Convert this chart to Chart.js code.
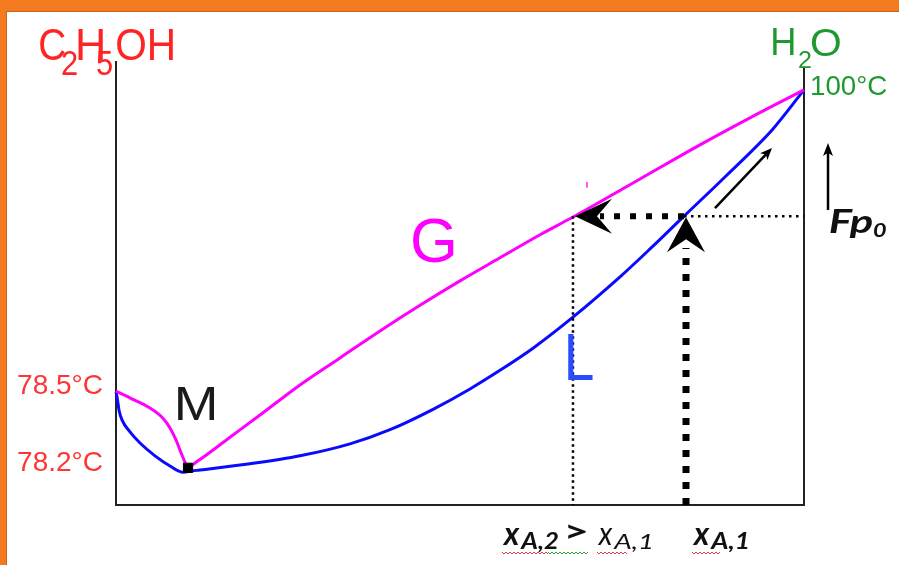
<!DOCTYPE html>
<html><head><meta charset="utf-8">
<script src="https://cdn.jsdelivr.net/npm/chart.js@4.4.1/dist/chart.umd.min.js"></script>
<style>html,body{margin:0;padding:0;background:#fff;}canvas{display:block;}</style>
</head><body>
<canvas id="c" width="899" height="565"></canvas>
<script>
// x: composition (0 = C2H5OH, 1 = H2O); y: schematic temperature height (0 = bottom axis, 100 = top of axis)
const liquidX = [0, 0.0015, 0.0044, 0.0087, 0.0203, 0.0349, 0.0567, 0.0785, 0.0974, 0.1105, 0.1221, 0.1948, 0.2674, 0.3401, 0.3983, 0.4608, 0.5145, 0.5581, 0.6061, 0.6642, 0.7326, 0.7762, 0.8256, 0.8881, 0.9549, 1];
const liquidY = [25.5, 24.4, 21.4, 19.2, 16.5, 14.0, 11.1, 8.8, 7.4, 7.7, 7.9, 9.3, 11.1, 13.8, 17.0, 21.6, 26.2, 30.4, 35.4, 42.4, 51.5, 57.8, 65.2, 74.5, 84.9, 93.7];
const vaporX = [0, 0.0203, 0.0494, 0.0683, 0.0785, 0.0872, 0.0930, 0.0988, 0.1047, 0.1177, 0.1657, 0.2093, 0.2674, 0.3256, 0.3837, 0.4419, 0.5000, 0.5581, 0.6163, 0.6642, 0.7616, 0.8488, 0.9215, 1];
const vaporY = [25.7, 24.2, 21.9, 19.6, 17.4, 14.7, 12.4, 10.2, 8.6, 9.8, 15.3, 20.3, 27.1, 33.2, 39.3, 45.1, 50.6, 55.8, 61.0, 65.0, 73.6, 81.3, 87.4, 93.7];
const azeoX = [0.1047];
const azeoY = [8.4];
const tempTickValues = [9.4, 26.7];
const tempTickLabels = ['78.2°C', '78.5°C'];
const rightAxisTop = 98.9;
const xA2 = 0.6642;        // vapour composition
const xA1 = 0.8256;        // liquid composition
const xA1Feed = 0.8285;    // feed line
const feedLevel = 65.2;    // Fp0 level
const feedTopLevel = 58.0; // top of thick dotted feed line
const horizArrowEnd = 0.7035;
const diagArrowX = [0.8706, 0.9535];
const diagArrowY = [67.0, 80.6];
const fpArrowX = 1.0349;
const fpArrowY = [66.6, 81.7];
const strayX = [0.6846, 0.6846];
const strayY = [72.9, 71.6];

const pts = (xs, ys) => xs.map((x, i) => ({x, y: ys[i]}));

const NARROW = '"Liberation Sans Narrow", "Liberation Sans", Arial, sans-serif';
const SANS = '"Liberation Sans", Arial, sans-serif';
const LATO = 'Lato, "Open Sans", sans-serif';

function fitText(ctx, text, left, baseline, width, font, color) {
  ctx.save();
  ctx.font = font; ctx.fillStyle = color;
  ctx.textAlign = 'left'; ctx.textBaseline = 'alphabetic';
  const m = ctx.measureText(text);
  const ink = m.actualBoundingBoxLeft + m.actualBoundingBoxRight;
  const s = width / ink;
  ctx.translate(left, baseline);
  ctx.scale(s, 1);
  ctx.fillText(text, m.actualBoundingBoxLeft, 0);
  ctx.restore();
}
function squiggle(ctx, x0, x1, y, color) {
  ctx.save(); ctx.strokeStyle = color; ctx.lineWidth = 1;
  ctx.beginPath();
  let up = true;
  for (let x = x0; x <= x1; x += 2) { ctx.lineTo(x, y + (up ? -1 : 1)); up = !up; }
  ctx.stroke(); ctx.restore();
}
function stealth(ctx, tx, ty, dx, dy, len, hw, notch) {
  const bx = tx - dx * len, by = ty - dy * len;
  const nx = -dy, ny = dx;
  ctx.beginPath();
  ctx.moveTo(tx, ty);
  ctx.lineTo(bx + nx * hw, by + ny * hw);
  ctx.lineTo(tx - dx * notch, ty - dy * notch);
  ctx.lineTo(bx - nx * hw, by - ny * hw);
  ctx.closePath();
  ctx.fill();
}
function arrow(ctx, x0, y0, x1, y1, w, hl, hw) {
  const L = Math.hypot(x1 - x0, y1 - y0), dx = (x1 - x0) / L, dy = (y1 - y0) / L;
  ctx.beginPath(); ctx.lineWidth = w;
  ctx.moveTo(x0, y0); ctx.lineTo(x1 - dx * hl * 0.7, y1 - dy * hl * 0.7); ctx.stroke();
  stealth(ctx, x1, y1, dx, dy, hl, hw, hl * 0.75);
}

const framePlugin = {
  id: 'frame',
  beforeDraw(chart) {
    const ctx = chart.ctx;
    ctx.save();
    ctx.fillStyle = '#ffffff'; ctx.fillRect(0, 0, chart.width, chart.height);
    ctx.fillStyle = '#f47a20';
    ctx.fillRect(0, 0, chart.width, 11);
    ctx.fillRect(0, 0, 6, chart.height);
    ctx.fillStyle = '#c8651c';
    ctx.fillRect(6, 11, 1, chart.height - 11);
    ctx.fillRect(6, 11, chart.width - 6, 1);
    ctx.restore();
  }
};

const notesPlugin = {
  id: 'notes',
  afterDatasetsDraw(chart) {
    const ctx = chart.ctx, xs = chart.scales.x, ys = chart.scales.y;
    const px = v => xs.getPixelForValue(v), py = v => ys.getPixelForValue(v);
    ctx.save();
    ctx.fillStyle = '#000'; ctx.strokeStyle = '#000';
    stealth(ctx, px(xA2) + 2, py(feedLevel), -1, 0, 37, 17.5, 22);
    stealth(ctx, px(xA1Feed), py(feedLevel) + 1, 0, -1, 35, 19, 22);
    ctx.lineCap = 'butt';
    arrow(ctx, px(diagArrowX[0]), py(diagArrowY[0]), px(diagArrowX[1]), py(diagArrowY[1]), 2.5, 12, 5);
    arrow(ctx, px(fpArrowX), py(fpArrowY[0]), px(fpArrowX), py(fpArrowY[1]), 2.5, 13, 5);
    ctx.restore();

    const red = '#ff2424', green = '#1f992f', mag = '#ff00ff', blueL = '#2a4cff';
    fitText(ctx, 'C', 40, 60, 25, '45px ' + NARROW, red);
    fitText(ctx, '2', 62, 75, 15, '35px ' + NARROW, red);
    fitText(ctx, 'H', 78, 60, 25, '45px ' + NARROW, red);
    fitText(ctx, '5', 97, 75, 15, '35px ' + NARROW, red);
    fitText(ctx, 'OH', 117, 60, 56, '45px ' + NARROW, red);
    fitText(ctx, 'H', 773, 55, 21, '38px ' + NARROW, green);
    fitText(ctx, '2', 799, 68, 12, '23px ' + NARROW, green);
    fitText(ctx, 'O', 811, 56, 29, '38px ' + NARROW, green);
    fitText(ctx, '100°C', 812, 95, 75, '28px ' + SANS, green);
    fitText(ctx, 'M', 177, 420, 38, '48px ' + SANS, '#1a1a1a');
    fitText(ctx, 'G', 413, 262, 41, '63px ' + SANS, mag);
    fitText(ctx, 'L', 568, 380, 25, '66px ' + SANS, blueL);
    fitText(ctx, 'Fp', 830, 233, 43, 'bold italic 32px ' + LATO, '#111');
    fitText(ctx, '0', 873, 237, 13, 'bold italic 18px ' + LATO, '#111');
    fitText(ctx, 'x', 502, 545, 18, 'bold italic 33px ' + LATO, '#111');
    fitText(ctx, 'A,2', 520, 549, 38, 'bold italic 22px ' + LATO, '#111');
    fitText(ctx, '>', 568, 542, 19, 'bold 30px ' + LATO, '#111');
    fitText(ctx, 'x', 597, 545, 16, 'italic 33px ' + LATO, '#111');
    fitText(ctx, 'A,1', 613, 549, 39, 'italic 22px ' + LATO, '#111');
    fitText(ctx, 'x', 692, 545, 18, 'bold italic 33px ' + LATO, '#111');
    fitText(ctx, 'A,1', 710, 549, 38, 'bold italic 22px ' + LATO, '#111');
    squiggle(ctx, 502, 548, 553, '#e04040');
    squiggle(ctx, 548, 588, 553, '#30a030');
    squiggle(ctx, 597, 627, 553, '#e04040');
    squiggle(ctx, 692, 720, 553, '#e04040');
  }
};

const base = {showLine: true, pointRadius: 0, clip: false, fill: false};

new Chart(document.getElementById('c'), {
  type: 'scatter',
  data: {
    datasets: [
      {...base, data: pts(azeoX, azeoY), showLine: false, pointRadius: 6.5, pointStyle: 'rect', backgroundColor: '#000', borderColor: '#000', order: 0},
      {...base, data: [{x: xA1, y: feedLevel}, {x: horizArrowEnd, y: feedLevel}], borderColor: '#000', borderWidth: 6, borderDash: [6, 10], order: 1},
      {...base, data: [{x: xA1Feed, y: 0}, {x: xA1Feed, y: feedTopLevel}], borderColor: '#000', borderWidth: 7, borderDash: [7, 9], order: 1},
      {...base, data: [{x: xA2, y: feedLevel}, {x: xA2, y: 0}], borderColor: '#000', borderWidth: 2.5, borderDash: [2.5, 3.5], order: 1},
      {...base, data: [{x: xA1, y: feedLevel}, {x: 1, y: feedLevel}], borderColor: '#000', borderWidth: 2.5, borderDash: [2.5, 4.5], order: 1},
      {...base, data: [{x: 1, y: 0}, {x: 1, y: rightAxisTop}], borderColor: '#222', borderWidth: 2, order: 4},
      {...base, data: pts(strayX, strayY), borderColor: '#ff55ff', borderWidth: 2, order: 4},
      {...base, data: pts(vaporX, vaporY), borderColor: '#ff00ff', borderWidth: 3, tension: 0.3, cubicInterpolationMode: 'monotone', order: 2},
      {...base, data: pts(liquidX, liquidY), borderColor: '#0a0aff', borderWidth: 3, tension: 0.3, cubicInterpolationMode: 'monotone', order: 3}
    ]
  },
  options: {
    responsive: false, animation: false, devicePixelRatio: 1,
    layout: {padding: {top: 62, right: 95, left: 0, bottom: 0}},
    plugins: {legend: {display: false}, tooltip: {enabled: false}},
    scales: {
      x: {type: 'linear', min: 0, max: 1,
          grid: {display: false, drawTicks: false}, ticks: {display: false},
          border: {display: true, color: '#222', width: 2},
          afterFit(s) { s.height = 60; }},
      y: {type: 'linear', min: 0, max: 100,
          grid: {display: false, drawTicks: false},
          border: {display: true, color: '#222', width: 2},
          ticks: {color: '#ff3535', padding: 13, autoSkip: false,
                  font: {family: SANS, size: 28},
                  callback: (v) => tempTickLabels[tempTickValues.indexOf(v)] || ''},
          afterBuildTicks(s) { s.ticks = tempTickValues.map(v => ({value: v})); },
          afterFit(s) { s.width = 116; }}
    }
  },
  plugins: [framePlugin, notesPlugin]
});
</script>
</body></html>
